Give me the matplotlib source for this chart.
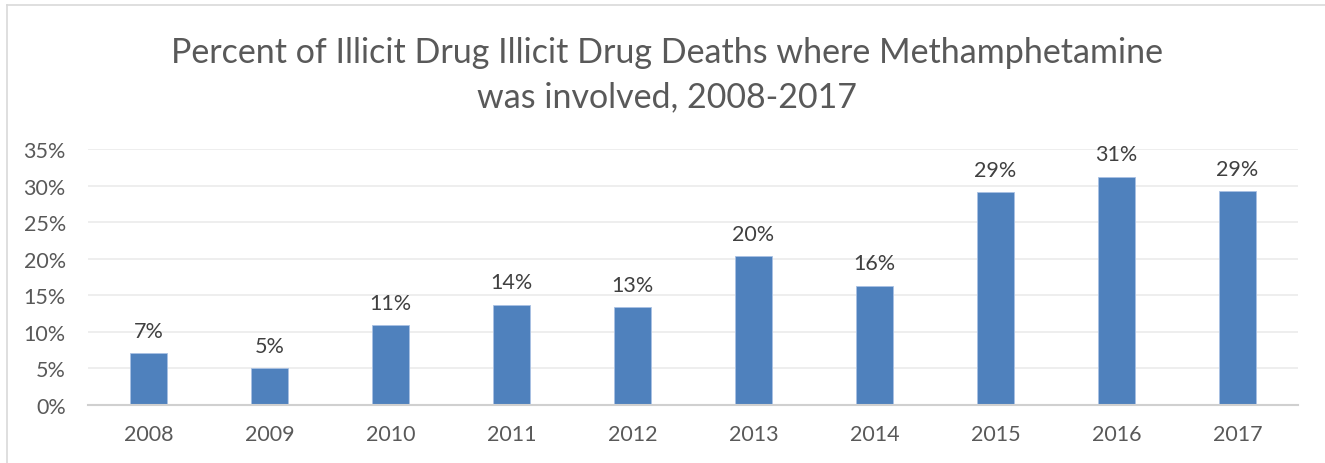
import matplotlib
matplotlib.use("Agg")
import matplotlib.pyplot as plt
from matplotlib.ticker import FuncFormatter
from matplotlib.lines import Line2D

years = ["2008", "2009", "2010", "2011", "2012", "2013", "2014", "2015", "2016", "2017"]
values = [0.0704, 0.0498, 0.1087, 0.1365, 0.1333, 0.2030, 0.1625, 0.2910, 0.3120, 0.2920]
labels = ["7%", "5%", "11%", "14%", "13%", "20%", "16%", "29%", "31%", "29%"]
title = "Percent of Illicit Drug Illicit Drug Deaths where Methamphetamine\nwas involved, 2008-2017"

plt.rcParams['font.family'] = ['Lato', 'DejaVu Sans']

W, H = 1325, 464
fig = plt.figure(figsize=(W / 100, H / 100), dpi=100)
fig.patch.set_facecolor("white")

left, right = 88 / W, 1298 / W
bottom, top = 1 - 405.7 / H, 1 - 150 / H
ax = fig.add_axes([left, bottom, right - left, top - bottom])

x = list(range(len(years)))
ax.bar(x, values, width=0.31, color="#4F81BD", edgecolor="#A9C1E3", linewidth=0.6, zorder=3)

ax.set_xlim(-0.5, len(years) - 0.5)
ax.set_ylim(0, 0.35)
ax.set_yticks([i * 0.05 for i in range(8)])
ax.yaxis.set_major_formatter(FuncFormatter(lambda v, p: f"{round(v * 100)}%"))
ax.set_xticks(x)
ax.set_xticklabels(years)

ax.grid(axis="y", color="#EBEBEB", linewidth=1.2, zorder=0)
ax.set_axisbelow(True)
for s in ["left", "right", "top"]:
    ax.spines[s].set_visible(False)
ax.spines["bottom"].set_color("#D0D0D0")
ax.spines["bottom"].set_linewidth(1.5)
ax.spines["bottom"].set_zorder(4)

ax.tick_params(axis="both", length=0, labelsize=15.5, colors="#595959")
ax.tick_params(axis="y", pad=16)
ax.tick_params(axis="x", pad=14)

for xi, v, lab in zip(x, values, labels):
    ax.annotate(lab, (xi, v), xytext=(0, 9), textcoords="offset points",
                ha="center", va="bottom", fontsize=15.5, color="#404040")

fig.text(0.5035, 1 - 75 / H, title, ha="center", va="center", fontsize=24.5,
         color="#595959", linespacing=1.48)

# chart border (left and top)
fig.add_artist(Line2D([7 / W, 7 / W], [0, 1 - 6 / H], transform=fig.transFigure,
                      color="#D9D9D9", linewidth=1.2))
fig.add_artist(Line2D([7 / W, 1], [1 - 6 / H, 1 - 6 / H], transform=fig.transFigure,
                      color="#D9D9D9", linewidth=1.2))

fig.savefig("out.png", dpi=100, facecolor="white")
